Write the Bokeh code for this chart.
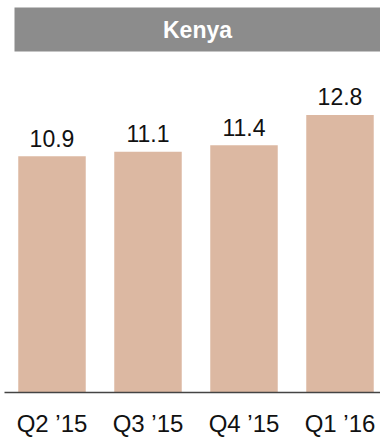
from bokeh.plotting import figure
from bokeh.models import ColumnDataSource, FixedTicker, BoxAnnotation, Label, Range1d
from bokeh.core.properties import value
from bokeh.embed import file_html
from bokeh.resources import INLINE

categories = ["Q2 \u201915", "Q3 \u201915", "Q4 \u201915", "Q1 \u201916"]
values = [10.9, 11.1, 11.4, 12.8]
labels = ["10.9", "11.1", "11.4", "12.8"]
title_text = "Kenya"

FONT = "Liberation Sans"
BAR_COLOR = "#dcb8a2"
TITLE_BG = "#8c8c8c"

xs = list(range(len(categories)))
src = ColumnDataSource(dict(x=xs, top=values, lab=labels))

p = figure(width=380, height=439, output_backend="svg", toolbar_location=None,
           x_range=Range1d(-0.4948, 3.4219), y_range=Range1d(0, 18.08),
           min_border_left=4, min_border_right=0, min_border_top=0, min_border_bottom=47)

p.vbar(x="x", top="top", bottom=0, width=0.703, source=src, color=BAR_COLOR, line_color=None)
p.text(x="x", y="top", text="lab", source=src, text_align="center", text_baseline="alphabetic",
       y_offset=-18, text_font=value(FONT), text_font_size="23px", text_color="#111111")

# title banner
p.add_layout(BoxAnnotation(left=-0.3906, right=3.4219, bottom=15.73, top=17.76,
                           fill_color=TITLE_BG, fill_alpha=1.0, line_color=None))
p.add_layout(Label(x=1.5156, y=16.74, text=title_text, text_align="center", text_baseline="middle",
                   text_font=FONT, text_font_size="23px", text_font_style="bold", text_color="white"))

p.yaxis.visible = False
p.xgrid.grid_line_color = None
p.ygrid.grid_line_color = None
p.outline_line_color = None
p.xaxis.ticker = FixedTicker(ticks=xs)
p.xaxis.major_label_overrides = {i: c for i, c in zip(xs, categories)}
p.xaxis.major_tick_line_color = None
p.xaxis.minor_tick_line_color = None
p.xaxis.major_tick_out = 0
p.xaxis.major_tick_in = 0
p.xaxis.minor_tick_out = 0
p.xaxis.minor_tick_in = 0
p.xaxis.axis_line_color = "#444444"
p.xaxis.axis_line_width = 1.5
p.xaxis.major_label_text_font = FONT
p.xaxis.major_label_text_font_size = "24px"
p.xaxis.major_label_text_color = "#111111"
p.xaxis.major_label_standoff = 17

open("out.html", "w").write(file_html(p, INLINE))
